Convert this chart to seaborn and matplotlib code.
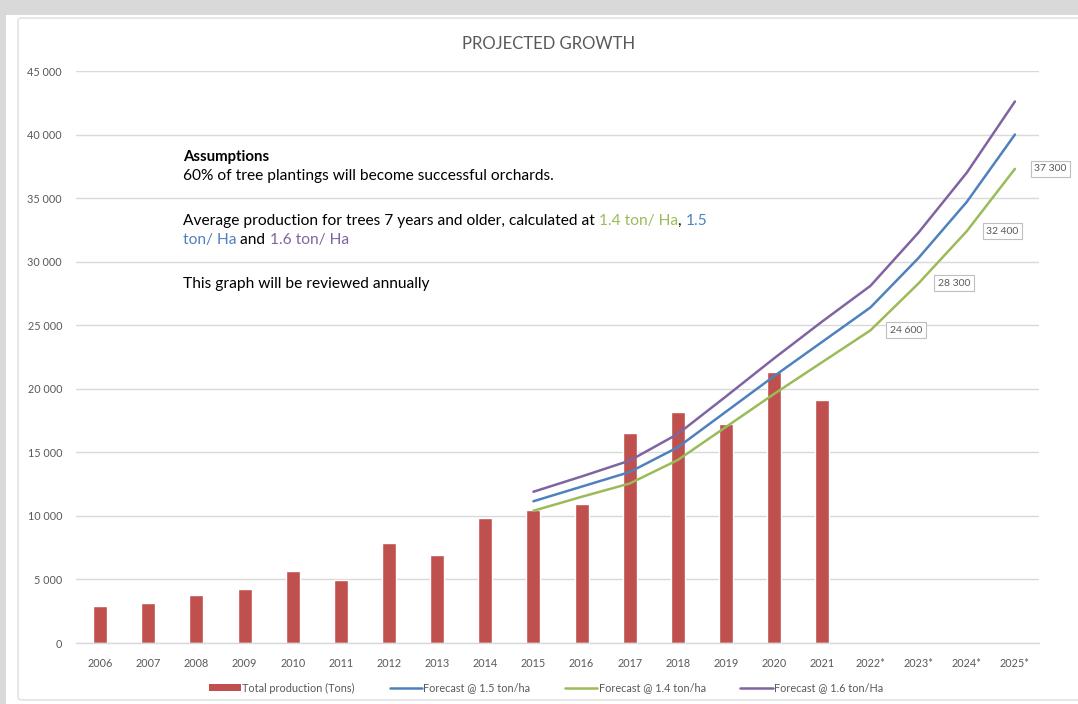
import numpy as np
import pandas as pd
import matplotlib
matplotlib.use("Agg")
import matplotlib.pyplot as plt
from matplotlib.patches import Rectangle, Patch, FancyBboxPatch
from matplotlib.lines import Line2D
import seaborn as sns

years = ["2006", "2007", "2008", "2009", "2010", "2011", "2012", "2013", "2014", "2015",
         "2016", "2017", "2018", "2019", "2020", "2021", "2022*", "2023*", "2024*", "2025*"]
production = [2900, 3150, 3780, 4250, 5670, 4960, 7870, 6930, 9800, 10450,
              10940, 16550, 18200, 17200, 21300, 19150, np.nan, np.nan, np.nan, np.nan]
forecast_years = ["2015", "2016", "2017", "2018", "2019", "2020", "2021", "2022*", "2023*", "2024*", "2025*"]
forecast_15 = [11150, 12300, 13450, 15400, 18200, 21000, 23700, 26400, 30300, 34700, 40000]
forecast_14 = [10400, 11500, 12550, 14400, 17000, 19600, 22100, 24600, 28300, 32400, 37300]
forecast_16 = [11900, 13100, 14350, 16450, 19400, 22400, 25300, 28100, 32300, 37000, 42600]
labelled_years = ["2022*", "2023*", "2024*", "2025*"]
labelled_values = [24600, 28300, 32400, 37300]

sns.set_theme(style="white")
plt.rcParams['font.family'] = ['Lato', 'DejaVu Sans']

RED = "#c0504d"
BLUE = "#4f81bd"
GREEN = "#9bbb59"
PURPLE = "#8064a2"
GREY_TXT = "#595959"

fig = plt.figure(figsize=(10.78, 7.04), dpi=100, facecolor="#d9d9d9")
W, H = 1078, 704
fig.patches.append(Rectangle((6 / W, 0), 1, 1 - 15 / H, transform=fig.transFigure,
                             facecolor="white", edgecolor="none", zorder=-2))
fig.patches.append(FancyBboxPatch((18 / W, 4 / H), 1.2, 1 - 22 / H, transform=fig.transFigure,
                                  boxstyle="round,pad=0,rounding_size=0.004",
                                  facecolor="white", edgecolor="#e3e3e3", linewidth=1.2, zorder=-1))

ax = fig.add_axes([76 / W, 1 - 643 / H, (1039 - 76) / W, (643 - 71) / H])
ax.set_facecolor("none")

df = pd.DataFrame({"year": years, "production": production})
sns.barplot(data=df, x="year", y="production", order=years, color=RED, width=0.29,
            saturation=1, ax=ax, zorder=2)

pos = {y: i for i, y in enumerate(years)}
fdf = pd.DataFrame({
    "x": [pos[y] for y in forecast_years],
    "f15": forecast_15, "f14": forecast_14, "f16": forecast_16,
})
sns.lineplot(data=fdf, x="x", y="f15", color=BLUE, linewidth=1.8, ax=ax, zorder=3)
sns.lineplot(data=fdf, x="x", y="f14", color=GREEN, linewidth=1.8, ax=ax, zorder=3)
sns.lineplot(data=fdf, x="x", y="f16", color=PURPLE, linewidth=1.8, ax=ax, zorder=3)

for yr, v in zip(labelled_years, labelled_values):
    ax.annotate(f"{v:,}".replace(",", " "), xy=(pos[yr], v), xytext=(14, 0),
                textcoords="offset points", ha="left", va="center", fontsize=7.5,
                color=GREY_TXT, annotation_clip=False, zorder=5,
                bbox=dict(boxstyle="square,pad=0.35", facecolor="white", edgecolor="#bfbfbf", linewidth=0.8))

ax.set_xlim(-0.5, len(years) - 0.5)
ax.set_ylim(0, 45000)
ax.set_yticks(np.arange(0, 45001, 5000))
ax.set_yticklabels([f"{int(v):,}".replace(",", " ") for v in np.arange(0, 45001, 5000)])
ax.yaxis.grid(True, color="#d9d9d9", linewidth=1)
ax.set_axisbelow(True)
for s in ["top", "right", "left"]:
    ax.spines[s].set_visible(False)
ax.spines["bottom"].set_color("#d9d9d9")
ax.spines["bottom"].set_linewidth(1)
ax.tick_params(axis="both", length=0, labelsize=7.8, labelcolor=GREY_TXT)
ax.tick_params(axis="x", pad=11)
ax.tick_params(axis="y", pad=10)
ax.set_xlabel("")
ax.set_ylabel("")

fig.text(549 / W, 1 - 44 / H, "PROJECTED GROWTH", ha="center", va="center",
         fontsize=12, color=GREY_TXT)

# assumptions text block
tx = 183 / W
fs = 11.2
fig.text(tx, 1 - 157 / H, "Assumptions", fontsize=10.8, fontweight="bold", color="black", va="center")
fig.text(tx, 1 - 176 / H, "60% of tree plantings will become successful orchards.", fontsize=fs,
         color="black", va="center")
t1 = fig.text(tx, 1 - 221 / H, "Average production for trees 7 years and older, calculated at ",
              fontsize=fs, color="black", va="center")
prev = t1
for s, c in [("1.4 ton/ Ha", GREEN), (", ", "black"), ("1.5", BLUE)]:
    prev = ax.annotate(s, xy=(1, 0), xycoords=prev, xytext=(0, 0), textcoords="offset points",
                       va="bottom", ha="left", fontsize=fs, color=c, annotation_clip=False)
l2 = fig.text(tx, 1 - 240 / H, "ton/ Ha", fontsize=fs, color=BLUE, va="center")
prev = l2
for s, c in [(" and ", "black"), ("1.6 ton/ Ha", PURPLE)]:
    prev = ax.annotate(s, xy=(1, 0), xycoords=prev, xytext=(0, 0), textcoords="offset points",
                       va="bottom", ha="left", fontsize=fs, color=c, annotation_clip=False)
fig.text(tx, 1 - 284 / H, "This graph will be reviewed annually", fontsize=fs, color="black", va="center")

handles = [Patch(facecolor=RED, edgecolor="none"),
           Line2D([], [], color=BLUE, linewidth=1.8),
           Line2D([], [], color=GREEN, linewidth=1.8),
           Line2D([], [], color=PURPLE, linewidth=1.8)]
labels = ["Total production (Tons)", "Forecast @ 1.5 ton/ha", "Forecast @ 1.4 ton/ha", "Forecast @ 1.6 ton/Ha"]
leg = fig.legend(handles, labels, loc="center", bbox_to_anchor=(546 / W, 1 - 688 / H), ncol=4,
                 frameon=False, fontsize=7.8, handlelength=3.0, handleheight=0.6,
                 columnspacing=3.2, handletextpad=0.1)
for t in leg.get_texts():
    t.set_color(GREY_TXT)

fig.savefig("out.png", dpi=100, facecolor=fig.get_facecolor())
